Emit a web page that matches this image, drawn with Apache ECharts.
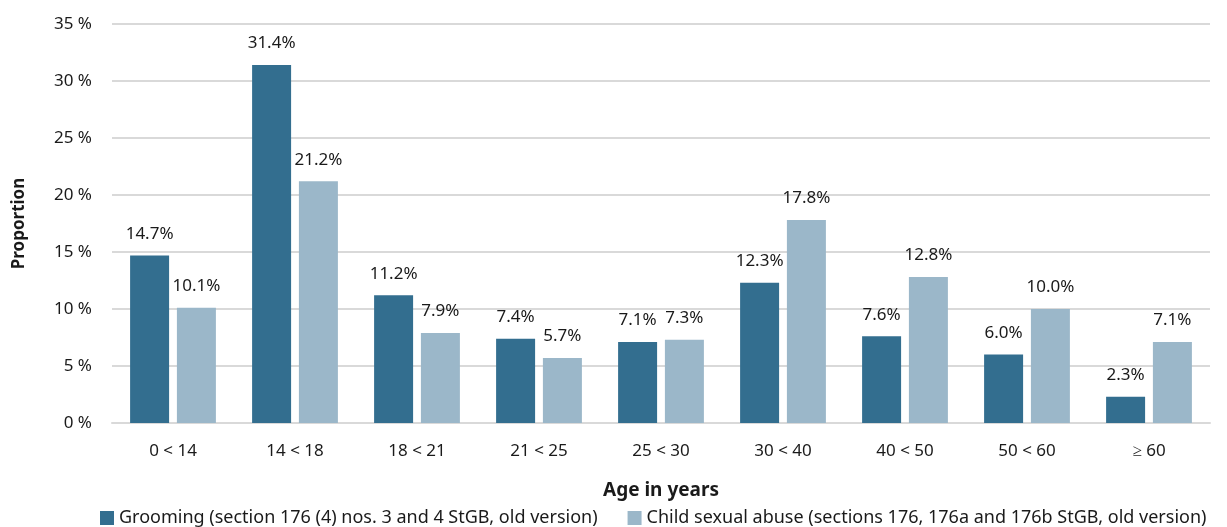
<!DOCTYPE html>
<html>
<head>
<meta charset="utf-8">
<script src="https://cdn.jsdelivr.net/npm/echarts@6/dist/echarts.min.js"></script>
<style>html,body{margin:0;padding:0;background:#fff}#c{width:1227px;height:527px}</style>
</head>
<body>
<div id="c"></div>
<script>
const categories = ['0 < 14', '14 < 18', '18 < 21', '21 < 25', '25 < 30', '30 < 40', '40 < 50', '50 < 60', '≥ 60'];
const grooming = [14.7, 31.4, 11.2, 7.4, 7.1, 12.3, 7.6, 6.0, 2.3];
const childAbuse = [10.1, 21.2, 7.9, 5.7, 7.3, 17.8, 12.8, 10.0, 7.1];
const seriesNames = ['Grooming (section 176 (4) nos. 3 and 4 StGB, old version)', 'Child sexual abuse (sections 176, 176a and 176b StGB, old version)'];

const FONT = 'Noto Sans';
const chart = echarts.init(document.getElementById('c'));
const lbl = {
  show: true, position: 'top', distance: 13,
  formatter: p => p.value.toFixed(1) + '%',
  color: '#1a1a1a', fontFamily: FONT, fontSize: 17
};
chart.setOption({
  animation: false,
  textStyle: { fontFamily: FONT },
  grid: { left: 112, right: 17, top: 24, bottom: 104, outerBoundsMode: 'none', containLabel: false },
  legend: {
    bottom: -5, left: 95, itemWidth: 14, itemHeight: 14, itemGap: 30,
    icon: 'rect',
    textStyle: { fontFamily: FONT, fontSize: 18, color: '#1a1a1a' }
  },
  xAxis: {
    type: 'category', data: categories,
    name: 'Age in years', nameLocation: 'middle', nameGap: 58,
    nameTextStyle: { fontFamily: FONT, fontSize: 19, fontWeight: 'bold', color: '#1a1a1a' },
    axisLine: { lineStyle: { color: '#d9d9d9', width: 2 } },
    axisTick: { show: false },
    axisLabel: { color: '#1a1a1a', fontFamily: FONT, fontSize: 17, margin: 20 }
  },
  yAxis: {
    type: 'value', min: 0, max: 35, interval: 5,
    name: 'Proportion', nameLocation: 'middle', nameGap: 84,
    nameTextStyle: { fontFamily: FONT, fontSize: 17, fontWeight: 'bold', color: '#1a1a1a' },
    axisLabel: { formatter: v => v + ' %', color: '#1a1a1a', fontFamily: FONT, fontSize: 17, margin: 20 },
    splitLine: { lineStyle: { color: '#d9d9d9', width: 2 } },
    axisLine: { show: false }, axisTick: { show: false }
  },
  series: [
    { name: seriesNames[0], type: 'bar', data: grooming, barWidth: 39, barGap: '20%',
      itemStyle: { color: '#336e8f' }, label: lbl },
    { name: seriesNames[1], type: 'bar', data: childAbuse, barWidth: 39,
      itemStyle: { color: '#9bb7c9' }, label: lbl }
  ]
});
</script>
</body>
</html>
